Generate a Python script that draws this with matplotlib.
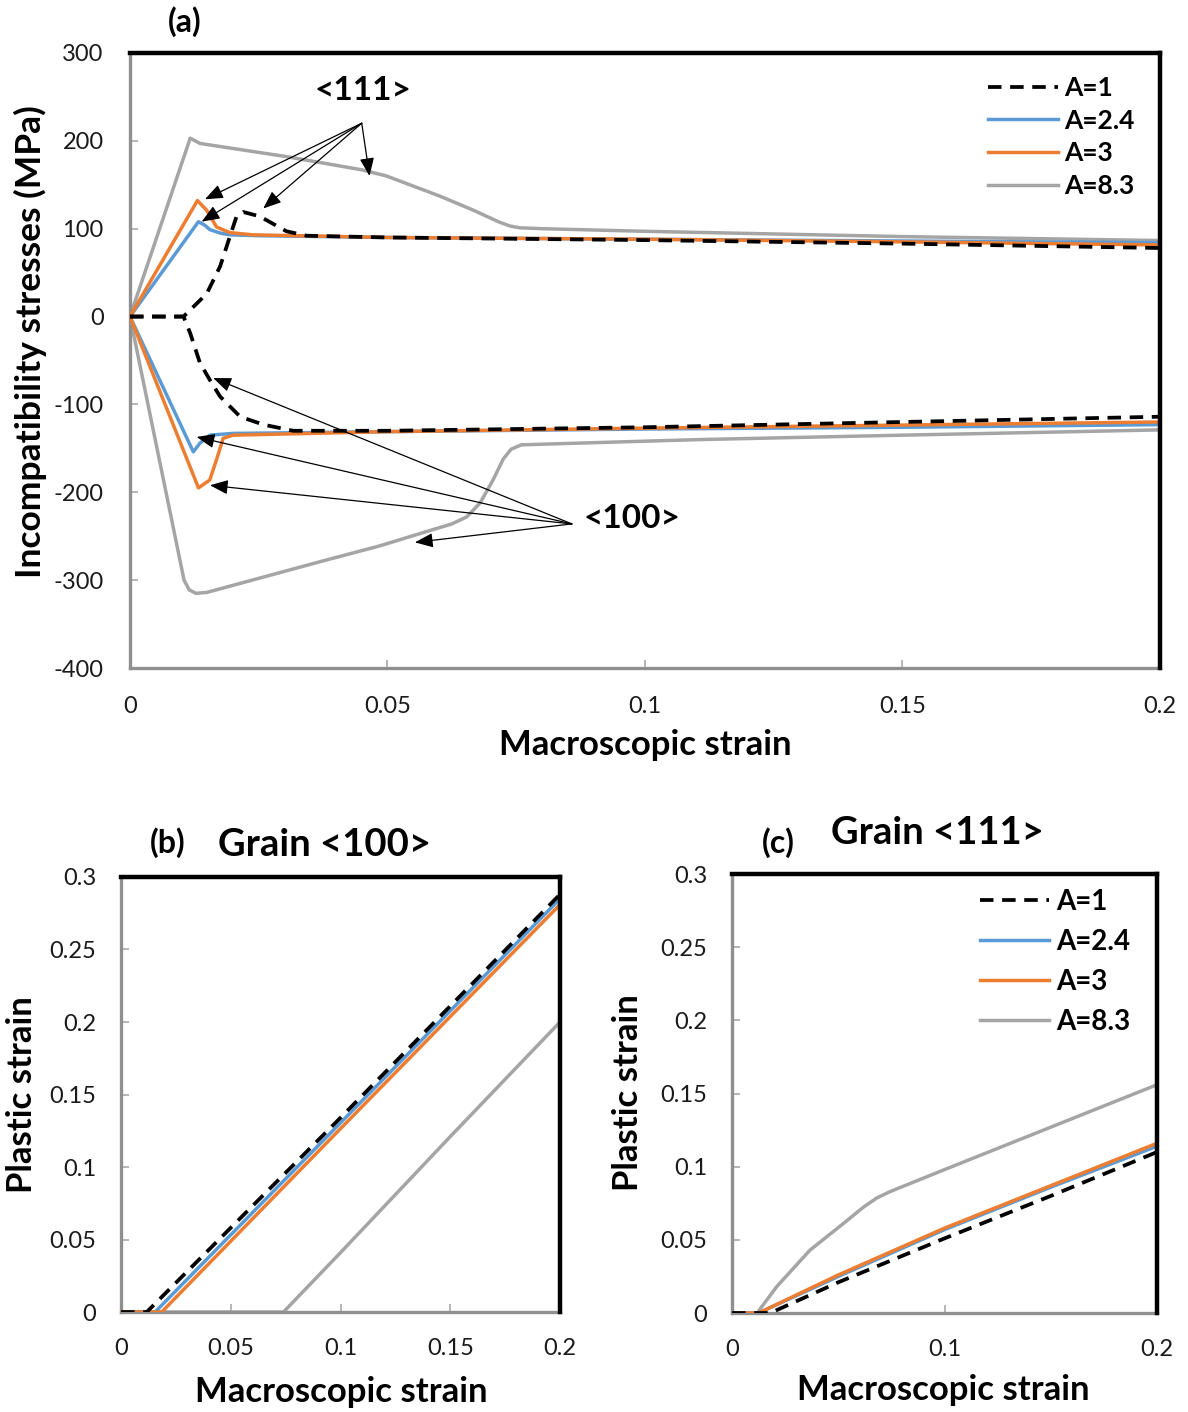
import matplotlib
matplotlib.use('Agg')
import matplotlib.pyplot as plt

plt.rcParams['font.family'] = ['Lato', 'DejaVu Sans']
plt.rcParams['axes.unicode_minus'] = False

# colours (Excel office palette)
C_A1 = 'black'
C_A24 = '#5B9BD5'
C_A3 = '#ED7D31'
C_A83 = '#A5A5A5'

# ---------------- panel (a): incompatibility stresses ----------------
# <111> grain (positive branch)
a111_A1_x = [0, 0.0104, 0.0149, 0.0175, 0.0194, 0.0207, 0.0220, 0.0252, 0.0304, 0.0343, 0.05, 0.1, 0.15, 0.2]
a111_A1_y = [0, 0, 26, 57, 91, 114, 119, 114, 97, 92, 90, 87, 83, 78]
a111_A24_x = [0, 0.0133, 0.0145, 0.0155, 0.0175, 0.0194, 0.025, 0.05, 0.1, 0.15, 0.2]
a111_A24_y = [0, 108, 104, 99, 95, 93, 92, 90, 88, 86, 84]
a111_A3_x = [0, 0.0131, 0.0149, 0.0168, 0.0194, 0.0239, 0.05, 0.1, 0.15, 0.2]
a111_A3_y = [0, 132, 121, 102, 95.5, 93, 90, 88, 85, 81.5]
a111_A83_x = [0, 0.0117, 0.0136, 0.0304, 0.045, 0.0498, 0.0602, 0.0667, 0.0715, 0.0738, 0.0757, 0.08,
              0.1, 0.15, 0.2]
a111_A83_y = [0, 203, 197, 182, 167, 160, 137, 121, 108, 103, 101, 100, 97, 91, 86.5]

# <100> grain (negative branch)
a100_A1_x = [0, 0.0104, 0.0117, 0.0136, 0.0155, 0.0175, 0.0214, 0.0259, 0.0317, 0.05, 0.1, 0.15, 0.2]
a100_A1_y = [0, 0, -19, -53, -72, -91, -114, -123, -130, -130, -126, -120, -114]
a100_A24_x = [0, 0.0123, 0.0136, 0.0155, 0.02, 0.05, 0.1, 0.15, 0.2]
a100_A24_y = [0, -154, -144, -135, -133, -131, -128, -126, -123]
a100_A3_x = [0, 0.0133, 0.0155, 0.0168, 0.0181, 0.02, 0.05, 0.1, 0.15, 0.2]
a100_A3_y = [0, -195, -186, -163, -138.5, -135, -131, -127, -123.5, -120]
a100_A83_x = [0, 0.0105, 0.0115, 0.0128, 0.0149, 0.0369, 0.0485, 0.0563, 0.0625, 0.0654, 0.068, 0.0705,
              0.0725, 0.0740, 0.0760, 0.0874, 0.1107, 0.15, 0.2]
a100_A83_y = [0, -300, -311, -315, -314, -279, -261, -247, -236, -228, -212, -186, -162, -151, -146,
              -144, -140, -135, -129]

# ---------------- panel (b): plastic strain, grain <100> ----------------
b_A1_x = [0, 0.0117, 0.1, 0.2]
b_A1_y = [0, 0, 0.134, 0.288]
b_A24_x = [0, 0.0155, 0.1, 0.2]
b_A24_y = [0, 0, 0.1305, 0.285]
b_A3_x = [0, 0.0185, 0.1, 0.2]
b_A3_y = [0, 0, 0.1265, 0.281]
b_A83_x = [0, 0.074, 0.1, 0.15, 0.2]
b_A83_y = [0, 0, 0.041, 0.121, 0.200]

# ---------------- panel (c): plastic strain, grain <111> ----------------
c_A1_x = [0, 0.018, 0.05, 0.1, 0.15, 0.2]
c_A1_y = [0, 0, 0.021, 0.051, 0.080, 0.110]
c_A24_x = [0, 0.0125, 0.05, 0.1, 0.15, 0.2]
c_A24_y = [0, 0, 0.025, 0.057, 0.086, 0.114]
c_A3_x = [0, 0.0125, 0.05, 0.1, 0.15, 0.2]
c_A3_y = [0, 0, 0.026, 0.058, 0.087, 0.116]
c_A83_x = [0, 0.0118, 0.021, 0.0367, 0.0525, 0.062, 0.068, 0.0744, 0.1, 0.15, 0.2]
c_A83_y = [0, 0, 0.018, 0.043, 0.0613, 0.0725, 0.0785, 0.083, 0.098, 0.127, 0.156]

labels = ['A=1', 'A=2.4', 'A=3', 'A=8.3']
strain_ticks = [0, 0.05, 0.1, 0.15, 0.2]
strain_ticklabels = ['0', '0.05', '0.1', '0.15', '0.2']
plastic_ticks = [0, 0.05, 0.1, 0.15, 0.2, 0.25, 0.3]
plastic_ticklabels = ['0', '0.05', '0.1', '0.15', '0.2', '0.25', '0.3']

# annotation arrows in (a): (tail, [heads])
arrows_111 = ((0.0450, 220), [(0.01456, 133.5), (0.01392, 108), (0.02588, 123), (0.04652, 160)])
arrows_100 = ((0.0858, -236), [(0.01617, -70), (0.01295, -137), (0.01553, -192), (0.05534, -257)])


def style_axes(ax, xpad, ypad):
    for s in ['left', 'bottom']:
        ax.spines[s].set_color('#8f8f8f')
        ax.spines[s].set_linewidth(2.4)
    for s in ['top', 'right']:
        ax.spines[s].set_color('black')
        ax.spines[s].set_linewidth(3.2)
        ax.spines[s].set_zorder(10)
    ax.tick_params(direction='in', length=6, width=1.3, color='#b0b0b0',
                   labelsize=17, labelcolor='#1a1a1a')
    ax.tick_params(axis='x', pad=xpad)
    ax.tick_params(axis='y', pad=ypad)
    ax.tick_params(top=False, right=False)


def draw_set(ax, series, lw=2.5):
    (x1, y1), (x2, y2), (x3, y3), (x4, y4) = series
    l4, = ax.plot(x4, y4, color=C_A83, lw=lw, zorder=2, solid_joinstyle='round')
    l2, = ax.plot(x2, y2, color=C_A24, lw=lw, zorder=3, solid_joinstyle='round')
    l3, = ax.plot(x3, y3, color=C_A3, lw=lw, zorder=4, solid_joinstyle='round')
    l1, = ax.plot(x1, y1, color=C_A1, lw=lw + 0.2, ls=(0, (3.6, 2.3)), zorder=5)
    return [l1, l2, l3, l4]


fig = plt.figure(figsize=(11.88, 14.12), dpi=100)

# ---- (a) ----
ax_a = fig.add_axes([0.1094, 0.5269, 0.867, 0.4356])
hA = draw_set(ax_a, [(a111_A1_x, a111_A1_y), (a111_A24_x, a111_A24_y),
                     (a111_A3_x, a111_A3_y), (a111_A83_x, a111_A83_y)])
draw_set(ax_a, [(a100_A1_x, a100_A1_y), (a100_A24_x, a100_A24_y),
                (a100_A3_x, a100_A3_y), (a100_A83_x, a100_A83_y)])
ax_a.set_xlim(0, 0.2)
ax_a.set_ylim(-400, 300)
ax_a.set_xticks(strain_ticks)
ax_a.set_xticklabels(strain_ticklabels)
ax_a.set_yticks(range(-400, 301, 100))
style_axes(ax_a, 20, 19)

for tail, heads in [arrows_111, arrows_100]:
    for h in heads:
        ax_a.annotate('', xy=h, xytext=tail,
                      arrowprops=dict(arrowstyle='-|>,head_length=0.55,head_width=0.22',
                                      mutation_scale=20, lw=0.9, color='black',
                                      shrinkA=0, shrinkB=0), zorder=6)
ax_a.text(0.04524, 256.7, '<111>', ha='center', va='center', fontsize=24, fontweight='bold')
ax_a.text(0.0975, -230, '<100>', ha='center', va='center', fontsize=24, fontweight='bold')

ax_a.legend(hA, labels, loc='upper left', bbox_to_anchor=(0.833, 0.9625), frameon=False,
            prop={'weight': 'bold', 'size': 19}, handlelength=2.65,
            handletextpad=0.25, labelspacing=0.33, borderpad=0, borderaxespad=0)

fig.text(0.1557, 0.9844, '(a)', ha='center', va='center', fontsize=23, fontweight='bold')
fig.text(0.0253, 0.7578, 'Incompatibility stresses (MPa)', rotation=90, ha='center', va='center',
         fontsize=25.5, fontweight='bold')
fig.text(0.543, 0.4724, 'Macroscopic strain', ha='center', va='center', fontsize=25, fontweight='bold')

# ---- (b) ----
ax_b = fig.add_axes([0.1019, 0.0708, 0.3695, 0.3081])
draw_set(ax_b, [(b_A1_x, b_A1_y), (b_A24_x, b_A24_y), (b_A3_x, b_A3_y), (b_A83_x, b_A83_y)])
ax_b.set_xlim(0, 0.2)
ax_b.set_ylim(0, 0.3)
ax_b.set_xticks(strain_ticks)
ax_b.set_xticklabels(strain_ticklabels)
ax_b.set_yticks(plastic_ticks)
ax_b.set_yticklabels(plastic_ticklabels)
style_axes(ax_b, 19, 18)

fig.text(0.1414, 0.403, '(b)', ha='center', va='center', fontsize=23, fontweight='bold')
fig.text(0.2736, 0.4016, 'Grain <100>', ha='center', va='center', fontsize=27.5, fontweight='bold')
fig.text(0.0185, 0.2245, 'Plastic strain', rotation=90, ha='center', va='center',
         fontsize=25, fontweight='bold')
fig.text(0.287, 0.0142, 'Macroscopic strain', ha='center', va='center', fontsize=25, fontweight='bold')

# ---- (c) ----
ax_c = fig.add_axes([0.6162, 0.0701, 0.3577, 0.3109])
hC = draw_set(ax_c, [(c_A1_x, c_A1_y), (c_A24_x, c_A24_y), (c_A3_x, c_A3_y), (c_A83_x, c_A83_y)])
ax_c.set_xlim(0, 0.2)
ax_c.set_ylim(0, 0.3)
ax_c.set_xticks([0, 0.1, 0.2])
ax_c.set_xticklabels(['0', '0.1', '0.2'])
ax_c.set_yticks(plastic_ticks)
ax_c.set_yticklabels(plastic_ticklabels)
style_axes(ax_c, 19, 18)

ax_c.legend(hC, labels, loc='upper left', bbox_to_anchor=(0.5835, 0.966), frameon=False,
            prop={'weight': 'bold', 'size': 20}, handlelength=2.5,
            handletextpad=0.25, labelspacing=0.5, borderpad=0, borderaxespad=0)

fig.text(0.6549, 0.403, '(c)', ha='center', va='center', fontsize=23, fontweight='bold')
fig.text(0.7887, 0.41, 'Grain <111>', ha='center', va='center', fontsize=27.5, fontweight='bold')
fig.text(0.5286, 0.2259, 'Plastic strain', rotation=90, ha='center', va='center',
         fontsize=25, fontweight='bold')
fig.text(0.7938, 0.0156, 'Macroscopic strain', ha='center', va='center', fontsize=25, fontweight='bold')

fig.savefig('out.png', dpi=100, facecolor='white')
